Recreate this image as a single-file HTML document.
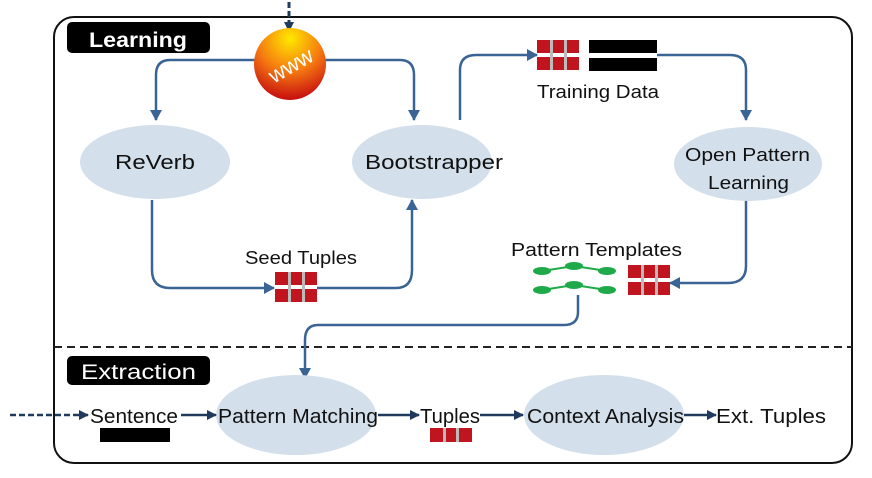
<!DOCTYPE html>
<html><head><style>body{margin:0;background:#fff}svg{display:block}text{font-family:"Liberation Sans",sans-serif}</style></head><body>
<svg width="872" height="478" viewBox="0 0 872 478" xmlns="http://www.w3.org/2000/svg">
<defs>
<marker id="a" markerWidth="12" markerHeight="12" refX="10" refY="6" orient="auto" markerUnits="userSpaceOnUse"><path d="M0,0L11,6L0,12z" fill="#3a6494"/></marker>
<marker id="d" markerWidth="10" markerHeight="10" refX="9" refY="5" orient="auto" markerUnits="userSpaceOnUse"><path d="M0,0L10,5L0,10z" fill="#1f3a5c"/></marker>
<radialGradient id="g" cx="0.5" cy="0.15" r="0.9"><stop offset="0" stop-color="#ffe800"/><stop offset="0.5" stop-color="#f57a10"/><stop offset="1" stop-color="#c00010"/></radialGradient>
<g id="rg"><rect x="0" y="0" width="42" height="13" fill="#c0141e"/><rect x="0" y="17" width="42" height="13" fill="#c0141e"/><rect x="13" y="0" width="3" height="30" fill="#bbb"/><rect x="27" y="0" width="3" height="30" fill="#bbb"/></g>
<g id="tr" fill="#1faa4a"><ellipse cx="10" cy="8" rx="9" ry="4"/><ellipse cx="42" cy="3" rx="9" ry="4"/><ellipse cx="75" cy="8" rx="9" ry="4"/><path d="M10,8L42,3L75,8" stroke="#1faa4a" stroke-width="2" fill="none"/></g>
</defs>
<rect x="54" y="17" width="798" height="446" rx="20" fill="none" stroke="#111" stroke-width="2"/>
<line x1="54" y1="347" x2="852" y2="347" stroke="#222" stroke-width="2" stroke-dasharray="8,5"/>
<rect x="67" y="22" width="143" height="31" rx="5" fill="#000"/>
<text x="89" y="47" font-size="21" font-weight="bold" fill="#fff" textLength="98" lengthAdjust="spacingAndGlyphs">Learning</text>
<rect x="67" y="356" width="143" height="29" rx="5" fill="#000"/>
<text x="81" y="379" font-size="21" fill="#fff" textLength="115" lengthAdjust="spacingAndGlyphs">Extraction</text>
<line x1="289" y1="2" x2="289" y2="31" stroke="#1f3a5c" stroke-width="3" stroke-dasharray="6,3" marker-end="url(#d)"/>
<g fill="none" stroke="#3a6494" stroke-width="2.5">
<path d="M258,60H170Q156,60 156,75V120" marker-end="url(#a)"/>
<path d="M322,60H400Q414,60 414,75V120" marker-end="url(#a)"/>
<path d="M152,200V270Q152,288 170,288H274" marker-end="url(#a)"/>
<path d="M317,288H396Q412,288 412,270V200" marker-end="url(#a)"/>
<path d="M460,120V70Q460,55 476,55H537" marker-end="url(#a)"/>
<path d="M657,55H730Q746,55 746,70V120" marker-end="url(#a)"/>
<path d="M746,200V266Q746,283 728,283H670" marker-end="url(#a)"/>
<path d="M578,295V312Q578,325 564,325H318Q305,325 305,340V378" marker-end="url(#a)"/>
</g>
<circle cx="290" cy="64" r="36" fill="url(#g)"/>
<text x="290" y="73" font-size="22" fill="#fff" font-family="Liberation Serif" text-anchor="middle" transform="rotate(-30 290 64)">www</text>
<g fill="#d3dfeb">
<ellipse cx="155" cy="162" rx="75" ry="37"/>
<ellipse cx="422" cy="162" rx="70" ry="37"/>
<ellipse cx="748" cy="164" rx="74" ry="37"/>
<ellipse cx="296" cy="415" rx="80" ry="40"/>
<ellipse cx="604" cy="415" rx="80" ry="40"/>
</g>
<g font-size="20" fill="#111">
<text x="115" y="169" textLength="80" lengthAdjust="spacingAndGlyphs">ReVerb</text>
<text x="365" y="169" textLength="138" lengthAdjust="spacingAndGlyphs">Bootstrapper</text>
<text x="685" y="161" font-size="18" textLength="125" lengthAdjust="spacingAndGlyphs">Open Pattern</text>
<text x="708" y="189" font-size="18" textLength="81" lengthAdjust="spacingAndGlyphs">Learning</text>
<text x="245" y="264" font-size="18" textLength="112" lengthAdjust="spacingAndGlyphs">Seed Tuples</text>
<text x="537" y="98" font-size="18" textLength="122" lengthAdjust="spacingAndGlyphs">Training Data</text>
<text x="511" y="256" font-size="18" textLength="171" lengthAdjust="spacingAndGlyphs">Pattern Templates</text>
</g>
<use href="#rg" x="275" y="272"/>
<use href="#rg" x="537" y="40"/>
<rect x="589" y="40" width="68" height="13" fill="#000"/><rect x="589" y="58" width="68" height="13" fill="#000"/>
<use href="#tr" x="532" y="263"/><use href="#tr" x="532" y="282"/>
<use href="#rg" x="628" y="265"/>
<g font-size="20" fill="#111">
<text x="90" y="423" textLength="88" lengthAdjust="spacingAndGlyphs">Sentence</text>
<text x="218" y="423" textLength="160" lengthAdjust="spacingAndGlyphs">Pattern Matching</text>
<text x="420" y="423" textLength="60" lengthAdjust="spacingAndGlyphs">Tuples</text>
<text x="527" y="423" textLength="157" lengthAdjust="spacingAndGlyphs">Context Analysis</text>
<text x="716" y="423" textLength="110" lengthAdjust="spacingAndGlyphs">Ext. Tuples</text>
</g>
<rect x="100" y="428" width="70" height="14" fill="#000"/>
<rect x="430" y="428" width="42" height="14" fill="#c0141e"/><rect x="443" y="428" width="3" height="14" fill="#bbb"/><rect x="456" y="428" width="3" height="14" fill="#bbb"/>
<g stroke="#1f3a5c" stroke-width="2.5" fill="none">
<line x1="10" y1="415" x2="88" y2="415" stroke-dasharray="6,3" marker-end="url(#d)"/>
<line x1="181" y1="415" x2="216" y2="415" marker-end="url(#d)"/>
<line x1="378" y1="415" x2="419" y2="415" marker-end="url(#d)"/>
<line x1="480" y1="415" x2="523" y2="415" marker-end="url(#d)"/>
<line x1="684" y1="415" x2="716" y2="415" marker-end="url(#d)"/>
</g>
</svg>
</body></html>
